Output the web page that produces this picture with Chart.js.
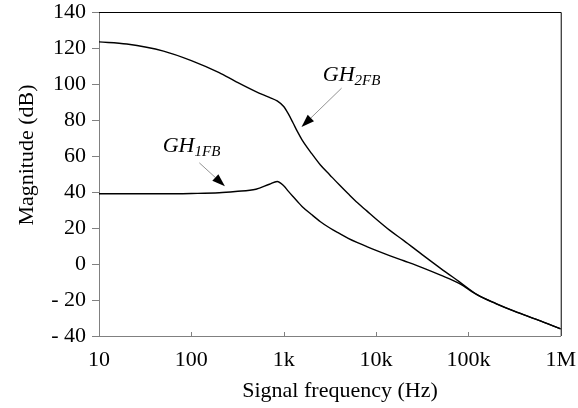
<!DOCTYPE html>
<html>
<head>
<meta charset="utf-8">
<script src="https://cdn.jsdelivr.net/npm/chart.js@4"></script>
<style>
  html, body { margin: 0; padding: 0; background: #fff; }
  #wrap { width: 578px; height: 408px; position: relative; }
</style>
</head>
<body>
<div id="wrap"><canvas id="myChart"></canvas></div>
<script>
// --- data ---
const freqHz = [10, 20, 50, 100, 200, 300, 500, 700, 850, 1000, 1120, 1260, 1410, 1580, 2000, 2500,
  3160, 4000, 5000, 6300, 7940, 10000, 14000, 20000, 31600, 50000, 79400, 126000, 200000, 316000,
  562000, 1000000];

const gh2fb = [123.4, 122.2, 118.3, 113, 106.3, 101.5, 95.8, 92.6, 90.6, 87.5, 83.5, 78.5, 73.5, 69,
  61.5, 55, 49.5, 44, 39, 34, 29.5, 25, 18.8, 13, 5.2, -2.4, -9.8, -17.2, -22, -26.2, -31, -36];

const gh1fb = [39, 39, 39, 39.2, 39.6, 40.3, 41.5, 44.3, 45.8, 43.5, 40.5, 37.5, 34.7, 32, 27.5, 23.5,
  20, 17, 14.3, 11.9, 9.7, 7.6, 4.7, 1.8, -2, -6.2, -10.8, -17.3, -22.1, -26.3, -31, -36];

const yTickValues = [140, 120, 100, 80, 60, 40, 20, 0, -20, -40];
const xTickValues = [10, 100, 1000, 10000, 100000, 1000000];
const xTickLabels = ['10', '100', '1k', '10k', '100k', '1M'];

// annotation anchors in data units [Hz, dB]
const labelNotes = [
  { main: 'GH', sub: '1FB', text: [49, 62.5], from: [122, 56.2], tip: [231, 43.2] },
  { main: 'GH', sub: '2FB', text: [2650, 101.4], from: [4240, 97.7], tip: [1560, 76.1] }
];

const serif = "'Liberation Serif', 'Times New Roman', serif";
const axisGray = '#808080';

// extra bits drawn on top: box border, tick marks, axis titles, notes
const extrasPlugin = {
  id: 'extras',
  afterDraw(chart) {
    const { ctx, chartArea: a, scales } = chart;
    const xs = scales.x, ys = scales.y;
    ctx.save();

    // black top + right border
    ctx.strokeStyle = '#000';
    ctx.lineWidth = 1;
    ctx.beginPath();
    ctx.moveTo(a.left, a.top + 0.5);
    ctx.lineTo(a.right + 0.5, a.top + 0.5);
    ctx.lineTo(a.right + 0.5, a.bottom);
    ctx.stroke();

    // y ticks point outwards, x ticks point inwards
    ctx.strokeStyle = axisGray;
    yTickValues.forEach(v => {
      const py = Math.round(ys.getPixelForValue(v)) + 0.5;
      ctx.beginPath();
      ctx.moveTo(a.left - 7, py);
      ctx.lineTo(a.left, py);
      ctx.stroke();
    });
    xTickValues.slice(1, -1).forEach(v => {
      const px = Math.round(xs.getPixelForValue(v)) + 0.5;
      ctx.beginPath();
      ctx.moveTo(px, a.bottom);
      ctx.lineTo(px, a.bottom - 4);
      ctx.stroke();
    });

    // axis titles
    ctx.fillStyle = '#000';
    ctx.font = '22px ' + serif;
    ctx.textAlign = 'center';
    ctx.textBaseline = 'alphabetic';
    ctx.fillText('Signal frequency (Hz)', 340, 397);
    ctx.save();
    ctx.translate(33, 155);
    ctx.rotate(-Math.PI / 2);
    ctx.fillText('Magnitude (dB)', 0, 0);
    ctx.restore();

    // GH labels with arrows
    labelNotes.forEach(n => {
      const tx = xs.getPixelForValue(n.text[0]), ty = ys.getPixelForValue(n.text[1]);
      ctx.textAlign = 'left';
      ctx.fillStyle = '#000';
      ctx.font = 'italic 22px ' + serif;
      ctx.fillText(n.main, tx, ty);
      const w = ctx.measureText(n.main).width;
      ctx.font = 'italic 15px ' + serif;
      ctx.fillText(n.sub, tx + w, ty + 4);

      const fx = xs.getPixelForValue(n.from[0]), fy = ys.getPixelForValue(n.from[1]);
      const px = xs.getPixelForValue(n.tip[0]), py = ys.getPixelForValue(n.tip[1]);
      const ang = Math.atan2(py - fy, px - fx);
      const len = 13, half = 4.5;
      const bx = px - len * Math.cos(ang), by = py - len * Math.sin(ang);

      ctx.strokeStyle = '#777';
      ctx.lineWidth = 0.8;
      ctx.beginPath();
      ctx.moveTo(fx, fy);
      ctx.lineTo(bx, by);
      ctx.stroke();

      ctx.beginPath();
      ctx.moveTo(px, py);
      ctx.lineTo(bx + half * Math.sin(ang), by - half * Math.cos(ang));
      ctx.lineTo(bx - half * Math.sin(ang), by + half * Math.cos(ang));
      ctx.closePath();
      ctx.fill();
    });

    ctx.restore();
  }
};

const ctx = document.getElementById('myChart').getContext('2d');
new Chart(ctx, {
  type: 'line',
  data: {
    labels: freqHz,
    datasets: [
      { label: 'GH2FB', data: gh2fb.map((v, i) => ({ x: freqHz[i], y: v })) },
      { label: 'GH1FB', data: gh1fb.map((v, i) => ({ x: freqHz[i], y: v })) }
    ]
  },
  options: {
    responsive: true,
    maintainAspectRatio: false,
    animation: false,
    layout: { padding: { left: 0, top: 12, right: 17, bottom: 0 } },
    elements: {
      point: { radius: 0 },
      line: { borderColor: '#000', borderWidth: 1.4, cubicInterpolationMode: 'monotone', fill: false }
    },
    plugins: {
      legend: { display: false },
      tooltip: { enabled: false }
    },
    scales: {
      x: {
        type: 'logarithmic',
        min: 10,
        max: 1000000,
        afterBuildTicks: scale => { scale.ticks = xTickValues.map(v => ({ value: v })); },
        afterFit: scale => { scale.height = 72; },
        // invisible tick marks only push the labels down; real ticks come from the plugin
        grid: { drawOnChartArea: false, drawTicks: true, tickLength: 11, color: 'rgba(0,0,0,0)' },
        border: { color: axisGray, width: 1 },
        ticks: {
          color: '#000',
          padding: 2,
          maxRotation: 0,
          autoSkip: false,
          font: { family: serif, size: 22, lineHeight: 1 },
          callback: (v, i) => xTickLabels[i]
        }
      },
      y: {
        min: -40,
        max: 140,
        afterFit: scale => { scale.width = 99; },
        grid: { drawOnChartArea: false, drawTicks: true, tickLength: 12, color: 'rgba(0,0,0,0)' },
        border: { color: axisGray, width: 1 },
        ticks: {
          stepSize: 20,
          color: '#000',
          padding: 1,
          font: { family: serif, size: 22, lineHeight: 1 },
          callback: v => (v < 0 ? '- ' + Math.abs(v) : String(v))
        }
      }
    }
  },
  plugins: [extrasPlugin]
});
</script>
</body>
</html>
